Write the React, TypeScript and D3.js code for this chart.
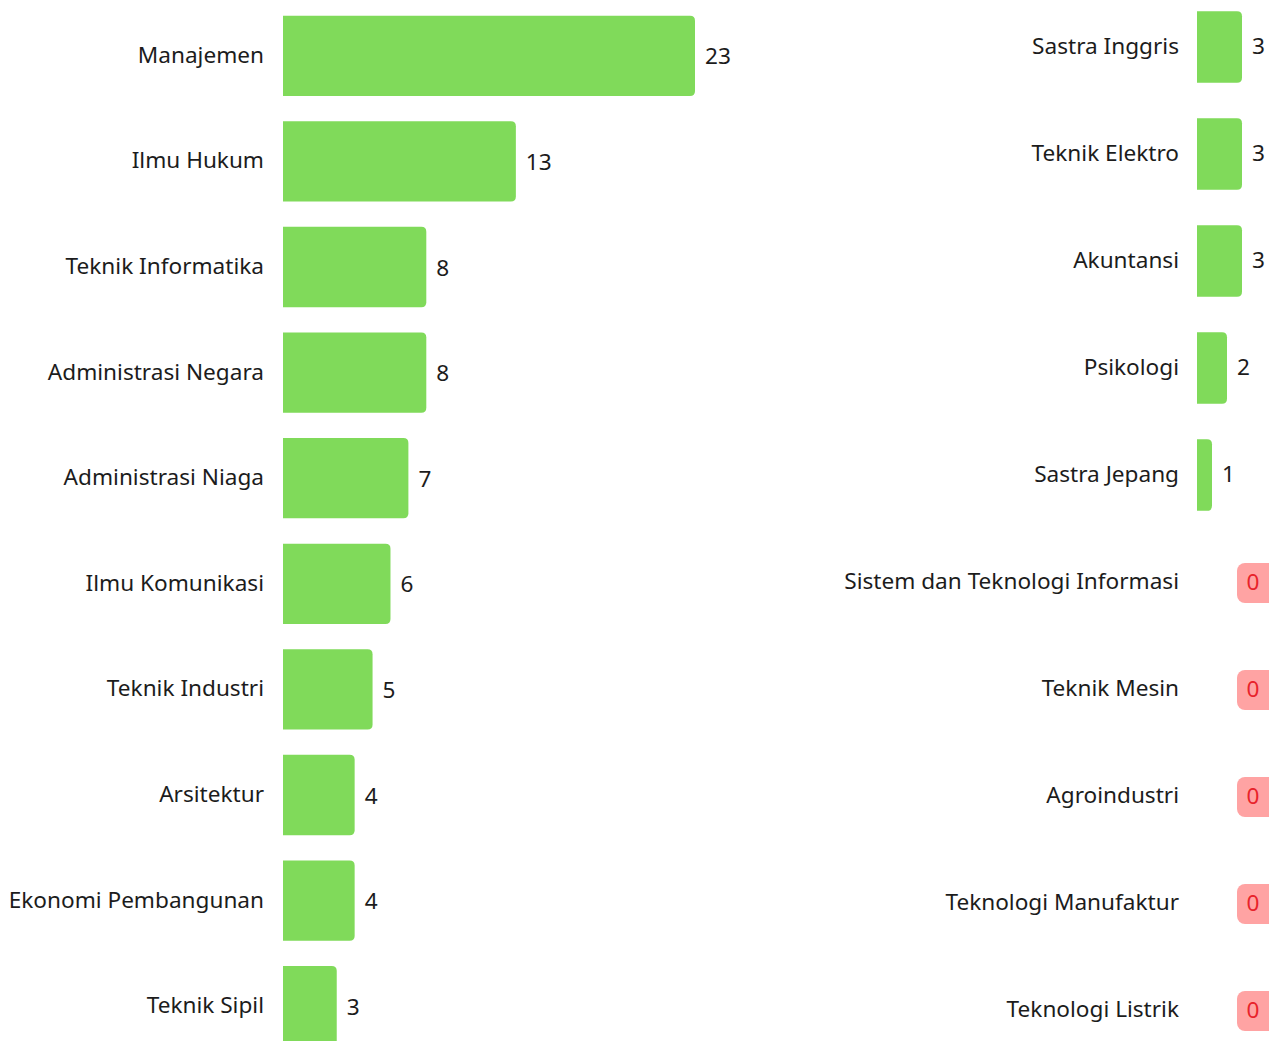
import React from "react";
import * as d3 from "d3";

const leftCategories = [
  "Manajemen",
  "Ilmu Hukum",
  "Teknik Informatika",
  "Administrasi Negara",
  "Administrasi Niaga",
  "Ilmu Komunikasi",
  "Teknik Industri",
  "Arsitektur",
  "Ekonomi Pembangunan",
  "Teknik Sipil",
];
const leftValues = [23, 13, 8, 8, 7, 6, 5, 4, 4, 3];

const rightCategories = [
  "Sastra Inggris",
  "Teknik Elektro",
  "Akuntansi",
  "Psikologi",
  "Sastra Jepang",
  "Sistem dan Teknologi Informasi",
  "Teknik Mesin",
  "Agroindustri",
  "Teknologi Manufaktur",
  "Teknologi Listrik",
];
const rightValues = [3, 3, 3, 2, 1, 0, 0, 0, 0, 0];

const W = 1269;
const H = 1041;
const GREEN = "#80DA5A";
const TEXT = "#1c1c1c";
const FONT = "'Noto Sans', sans-serif";
const FS = 22.6;
const DY = -1.5;

function rightRoundedRect(x: number, y: number, w: number, h: number, r: number) {
  const rr = Math.min(r, w, h / 2);
  if (w <= 0) return "";
  return `M${x},${y}H${x + w - rr}Q${x + w},${y} ${x + w},${y + rr}V${y + h - rr}Q${x + w},${y + h} ${x + w - rr},${y + h}H${x}Z`;
}

export default function App() {
  const lx0 = 283;
  const lxScale = d3.scaleLinear().domain([0, 23]).range([lx0, 695]);
  const ly = d3.scaleBand<string>().domain(leftCategories).range([3, 1059]).paddingInner(0.24).paddingOuter(0.12);

  const rx0 = 1197;
  const rxScale = d3.scaleLinear().domain([0, 3]).range([rx0, 1242]);
  const ry = d3.scaleBand<string>().domain(rightCategories).range([-6.5, 1063.5]).paddingInner(0.33).paddingOuter(0.165);

  return (
    <svg
      width={W}
      height={H}
      style={{ position: "fixed", left: 0, top: 0, background: "#fff" }}
      fontFamily={FONT}
    >
      {leftCategories.map((c, i) => {
        const y = ly(c)!;
        const bh = ly.bandwidth();
        const cy = y + bh / 2;
        const x1 = lxScale(leftValues[i]);
        return (
          <g key={c}>
            <text x={264} y={cy + DY} textAnchor="end" dominantBaseline="central" fontSize={FS} fill={TEXT}>
              {c}
            </text>
            <path d={rightRoundedRect(lx0, y, x1 - lx0, bh, 5)} fill={GREEN} />
            <text x={x1 + 10} y={cy} dominantBaseline="central" fontSize={FS} fill={TEXT}>
              {leftValues[i]}
            </text>
          </g>
        );
      })}
      {rightCategories.map((c, i) => {
        const y = ry(c)!;
        const bh = ry.bandwidth();
        const cy = y + bh / 2;
        const v = rightValues[i];
        const x1 = rxScale(v);
        return (
          <g key={c}>
            <text x={1179} y={cy + DY} textAnchor="end" dominantBaseline="central" fontSize={FS} fill={TEXT}>
              {c}
            </text>
            {v > 0 ? (
              <>
                <path d={rightRoundedRect(rx0, y, x1 - rx0, bh, 5)} fill={GREEN} />
                <text x={x1 + 10} y={cy + DY} dominantBaseline="central" fontSize={FS} fill={TEXT}>
                  {v}
                </text>
              </>
            ) : (
              <>
                <rect x={1237} y={cy - 19} width={40} height={40} rx={8} fill="#FFA3A3" />
                <text x={1253} y={cy - 1} textAnchor="middle" dominantBaseline="central" fontSize={FS} fill="#E8232B">
                  {v}
                </text>
              </>
            )}
          </g>
        );
      })}
    </svg>
  );
}
